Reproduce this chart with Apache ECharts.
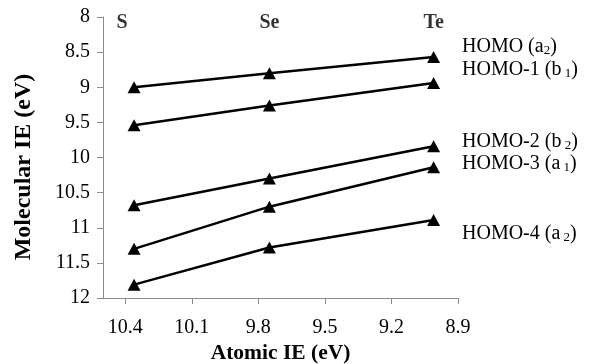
<!DOCTYPE html>
<html>
<head>
<meta charset="utf-8">
<script src="https://cdn.jsdelivr.net/npm/echarts@6/dist/echarts.min.js"></script>
<style>html,body{margin:0;padding:0;background:#fff;}#c{width:589px;height:364px;}</style>
</head>
<body>
<div id="c"></div>
<script>
const elements = ['S', 'Se', 'Te'];
const atomicIE = [10.36, 9.75, 9.01];
const homo0 = [9.00, 8.80, 8.57];
const homo1 = [9.54, 9.26, 8.94];
const homo2 = [10.68, 10.30, 9.84];
const homo3 = [11.30, 10.70, 10.14];
const homo4 = [11.81, 11.28, 10.89];
const xTickValues = [10.4, 10.1, 9.8, 9.5, 9.2, 8.9];
const seriesNames = ['HOMO (a2)', 'HOMO-1 (b1)', 'HOMO-2 (b2)', 'HOMO-3 (a1)', 'HOMO-4 (a2)'];
const seriesLabelsRich = ['HOMO (a{s|2})', 'HOMO-1 (b{s| 1})', 'HOMO-2 (b{s| 2})', 'HOMO-3 (a{s| 1})', 'HOMO-4 (a{s| 2})'];
const labelY = [48, 71, 143, 165, 235];
const xTitle = 'Atomic IE (eV)';
const yTitle = 'Molecular IE (eV)';

const allSeries = [homo0, homo1, homo2, homo3, homo4];
const font = '"Liberation Serif", "Times New Roman", serif';
const axisGray = '#8c8c8c';

const chart = echarts.init(document.getElementById('c'), null, {renderer: 'canvas'});

const lineSeries = allSeries.map((vals, i) => ({
  name: seriesNames[i],
  type: 'line',
  data: vals.map((v, j) => [atomicIE[j], v]),
  symbol: 'triangle',
  symbolSize: [13, 12],
  itemStyle: {color: '#000'},
  lineStyle: {color: '#000', width: 2.5},
  z: 3
}));

lineSeries.push({
  type: 'scatter',
  symbolSize: 0,
  silent: true,
  data: elements.map((e, j) => ({value: [atomicIE[j], 8], name: e,
    label: {offset: j === 0 ? [-12, 6] : [0, 6]}})),
  label: {
    show: true, position: 'inside',
    formatter: p => p.name,
    fontFamily: font, fontWeight: 'bold', fontSize: 20, color: '#000'
  }
});

const graphics = seriesLabelsRich.map((t, i) => ({
  type: 'text', left: 462, top: labelY[i] - 11,
  style: {
    text: t, fontFamily: font, fontSize: 20, fill: '#000',
    rich: {s: {fontFamily: font, fontSize: 13, fill: '#000', padding: [8, 0, 0, 0]}}
  }
}));
graphics.push({
  type: 'text', x: 24, y: 167, rotation: Math.PI / 2,
  style: {text: yTitle, fontFamily: font, fontWeight: 'bold', fontSize: 24, fill: '#000',
    align: 'center', verticalAlign: 'middle'}
});

chart.setOption({
  animation: false,
  backgroundColor: '#fff',
  grid: {left: 103, right: 131, top: 17, bottom: 66, containLabel: false, outerBoundsMode: 'none'},
  xAxis: {
    type: 'value', inverse: true, min: 8.9, max: 10.5,
    axisLine: {show: true, lineStyle: {color: axisGray, width: 1}},
    axisTick: {show: true, length: 6, lineStyle: {color: axisGray}, customValues: xTickValues},
    axisLabel: {customValues: xTickValues, fontFamily: font, fontSize: 20, color: '#000', margin: 20,
      formatter: v => v.toFixed(1)},
    splitLine: {show: false},
    name: xTitle, nameLocation: 'middle', nameGap: 40,
    nameTextStyle: {fontFamily: font, fontWeight: 'bold', fontSize: 21.5, color: '#000'}
  },
  yAxis: {
    type: 'value', inverse: true, min: 8, max: 12, interval: 0.5,
    axisLine: {show: true, lineStyle: {color: axisGray, width: 1}},
    axisTick: {show: true, length: 6, lineStyle: {color: axisGray}},
    axisLabel: {fontFamily: font, fontSize: 20, color: '#000', margin: 13},
    splitLine: {show: false}
  },
  graphic: graphics,
  series: lineSeries
});
</script>
</body>
</html>
